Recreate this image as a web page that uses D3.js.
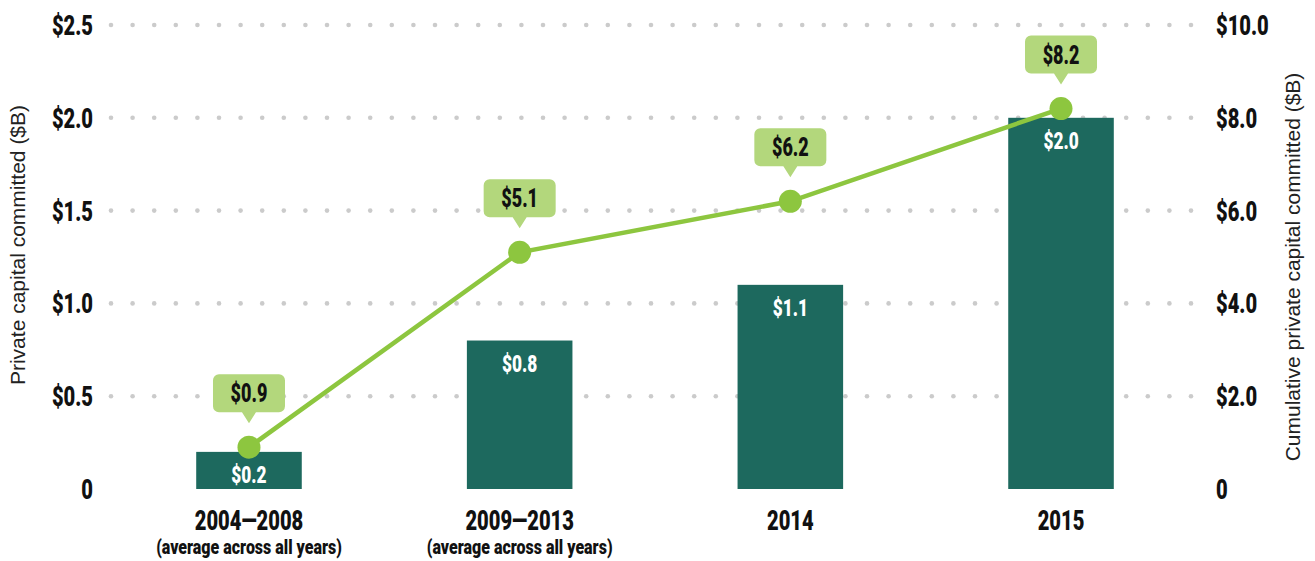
<!DOCTYPE html>
<html>
<head>
<meta charset="utf-8">
<script src="https://cdn.jsdelivr.net/npm/d3@7"></script>
<style>
  body { margin: 0; background: #fff; }
  .cond { font-family: Roboto, "DejaVu Sans Condensed", sans-serif; font-weight: 900; }
  .title { font-family: "Liberation Sans", Arial, sans-serif; font-size: 21px; fill: #222; }
</style>
</head>
<body>
<svg id="chart" width="1315" height="561"></svg>
<script>
// categories along the bottom
const categories = ["2004\u20142008", "2009\u20142013", "2014", "2015"];
const subLabels = ["(average across all years)", "(average across all years)", "", ""];
// annual private capital committed ($B), bars, left axis
const annual = [0.2, 0.8, 1.1, 2.0];
// cumulative private capital committed ($B), line, right axis
const cumulative = [0.9, 5.1, 6.2, 8.2];
const leftTicks = [0, 0.5, 1.0, 1.5, 2.0, 2.5];
const rightTicks = [0, 2, 4, 6, 8, 10];

const svg = d3.select("#chart");
const plot = { left: 111, right: 1191, top: 25, bottom: 489 };
const squeeze = 0.72; // horizontal squeeze to mimic a condensed face

const x = d3.scaleBand()
  .domain(categories)
  .range([plot.left + 4, plot.right + 4])
  .paddingInner(0.61)
  .paddingOuter(0.3);

const yL = d3.scaleLinear().domain([0, 2.5]).range([plot.bottom, plot.top]);
const yR = d3.scaleLinear().domain([0, 10]).range([plot.bottom, plot.top]);

// place condensed text: translate + scaleX
function cond(sel, fx, fy, k = squeeze) {
  return sel.attr("class", "cond")
    .attr("transform", (d, i) => `translate(${fx(d, i)},${fy(d, i)}) scale(${k},1)`);
}

// dotted gridlines (not at zero)
const dotXs = d3.range(0, 51).map(i => plot.left + i * (plot.right - plot.left) / 50);
const grid = svg.append("g");
leftTicks.filter(t => t > 0).forEach(t => {
  grid.selectAll(null)
    .data(dotXs)
    .join("circle")
    .attr("cx", d => d)
    .attr("cy", yL(t))
    .attr("r", 2.3)
    .attr("fill", "#cbcbcb");
});

const fmt1 = d3.format(".1f");
const money = v => "$" + fmt1(v);

// left axis labels
svg.append("g")
  .selectAll("text")
  .data(leftTicks)
  .join("text")
  .call(cond, () => 93, d => yL(d) + 10)
  .attr("text-anchor", "end")
  .attr("font-size", 28)
  .attr("fill", "#111")
  .text(d => d === 0 ? "0" : money(d));

// right axis labels
svg.append("g")
  .selectAll("text")
  .data(rightTicks)
  .join("text")
  .call(cond, () => 1216, d => yR(d) + 10)
  .attr("text-anchor", "start")
  .attr("font-size", 28)
  .attr("fill", "#111")
  .text(d => d === 0 ? "0" : money(d));

// axis titles
svg.append("text")
  .attr("class", "title")
  .attr("transform", `translate(25,${(plot.top + plot.bottom) / 2 - 12}) rotate(-90)`)
  .attr("text-anchor", "middle")
  .text("Private capital committed ($B)");

svg.append("text")
  .attr("class", "title")
  .attr("transform", `translate(1300,${(plot.top + plot.bottom) / 2 + 10}) rotate(-90)`)
  .attr("text-anchor", "middle")
  .text("Cumulative private capital committed ($B)");

// bars
const bars = svg.append("g")
  .selectAll("g")
  .data(categories.map((c, i) => ({ c, v: annual[i] })))
  .join("g");

bars.append("rect")
  .attr("x", d => x(d.c))
  .attr("y", d => yL(d.v))
  .attr("width", x.bandwidth())
  .attr("height", d => plot.bottom - yL(d.v))
  .attr("fill", "#1d695e");

bars.append("text")
  .call(cond, d => x(d.c) + x.bandwidth() / 2, d => yL(d.v) + 31)
  .attr("text-anchor", "middle")
  .attr("font-size", 24)
  .attr("fill", "#fff")
  .text(d => money(d.v));

// category labels
svg.append("g")
  .selectAll("text")
  .data(categories)
  .join("text")
  .call(cond, d => x(d) + x.bandwidth() / 2, () => 530)
  .attr("text-anchor", "middle")
  .attr("font-size", 28)
  .attr("fill", "#111")
  .text(d => d);

svg.append("g")
  .selectAll("text")
  .data(categories.map((c, i) => ({ c, s: subLabels[i] })))
  .join("text")
  .call(cond, d => x(d.c) + x.bandwidth() / 2, () => 554, 0.8)
  .attr("text-anchor", "middle")
  .attr("font-size", 20)
  .attr("fill", "#111")
  .text(d => d.s);

// cumulative line
const pts = categories.map((c, i) => ({ c, v: cumulative[i] }));
const cx = d => x(d.c) + x.bandwidth() / 2;

svg.append("path")
  .datum(pts)
  .attr("fill", "none")
  .attr("stroke", "#8dc63f")
  .attr("stroke-width", 4.5)
  .attr("d", d3.line().x(cx).y(d => yR(d.v)));

svg.append("g")
  .selectAll("circle")
  .data(pts)
  .join("circle")
  .attr("cx", cx)
  .attr("cy", d => yR(d.v))
  .attr("r", 11.5)
  .attr("fill", "#8dc63f");

// callouts
const callout = svg.append("g")
  .selectAll("g")
  .data(pts)
  .join("g")
  .attr("transform", d => `translate(${cx(d)},${yR(d.v)})`);

callout.append("path")
  .attr("d", "M-36,-67 a6,6 0 0 1 6,-6 H30 a6,6 0 0 1 6,6 V-41 a6,6 0 0 1 -6,6 H7 L0,-24 L-7,-35 H-30 a6,6 0 0 1 -6,-6 Z")
  .attr("fill", "#b3d77c");

callout.append("text")
  .call(cond, () => 0, () => -45)
  .attr("text-anchor", "middle")
  .attr("font-size", 25)
  .attr("fill", "#111")
  .text(d => money(d.v));
</script>
</body>
</html>
